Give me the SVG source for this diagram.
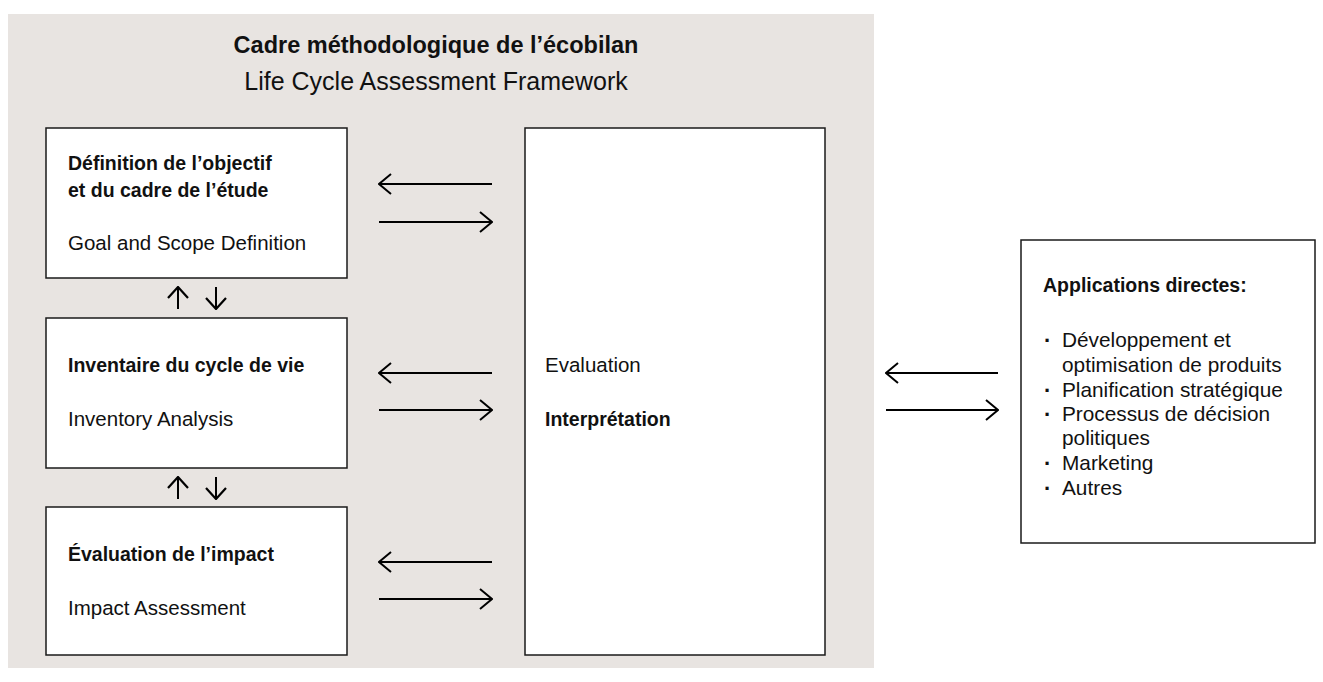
<svg xmlns="http://www.w3.org/2000/svg" width="1323" height="682" viewBox="0 0 1323 682">
<style>
text{font-family:"Liberation Sans",Arial,sans-serif;fill:#111;font-size:20.5px}
.b{font-weight:bold;font-size:19.5px}
.t1{font-weight:bold;font-size:23.5px}
.t2{font-size:25px}
.r{font-size:20.8px}
.d{font-size:22px;font-weight:bold}
.box{fill:#fff;stroke:#1a1a1a;stroke-width:1.5}
.c{stroke:#000;stroke-width:2;fill:none}
</style>
<defs>
<marker id="ah" viewBox="0 0 14 22" refX="13" refY="11" markerWidth="14" markerHeight="22" markerUnits="userSpaceOnUse" orient="auto">
<path d="M1,1 L13,11 L1,21" fill="none" stroke="#000" stroke-width="2"/>
</marker>
<marker id="ahs" viewBox="0 0 13 22" refX="12" refY="11" markerWidth="13" markerHeight="22" markerUnits="userSpaceOnUse" orient="auto">
<path d="M1,1 L12,11 L1,21" fill="none" stroke="#000" stroke-width="2.2"/>
</marker>
</defs>
<rect x="8" y="14" width="866" height="654" fill="#e8e4e1"/>
<g id="title">
<text class="t1" x="436" y="53" text-anchor="middle">Cadre méthodologique de l’écobilan</text>
<text class="t2" x="436" y="90" text-anchor="middle">Life Cycle Assessment Framework</text>
</g>
<g id="goal">
<rect class="box" x="46" y="128" width="301" height="150"/>
<text class="b" x="68" y="170">Définition de l’objectif</text>
<text class="b" x="68" y="197">et du cadre de l’étude</text>
<text x="68" y="250">Goal and Scope Definition</text>
</g>
<g id="inventory">
<rect class="box" x="46" y="318" width="301" height="150"/>
<text class="b" x="68" y="372">Inventaire du cycle de vie</text>
<text x="68" y="426">Inventory Analysis</text>
</g>
<g id="impact">
<rect class="box" x="46" y="507" width="301" height="148"/>
<text class="b" x="68" y="561">Évaluation de l’impact</text>
<text x="68" y="615">Impact Assessment</text>
</g>
<g id="interpretation">
<rect class="box" x="525" y="128" width="300" height="527"/>
<text x="545" y="372">Evaluation</text>
<text class="b" x="545" y="426">Interprétation</text>
</g>
<g id="applications">
<rect class="box" x="1021" y="240" width="294" height="303"/>
<text class="b" x="1043" y="292">Applications directes:</text>
<text class="d" x="1044" y="348">·</text><text class="r" x="1062" y="347">Développement et</text>
<text class="r" x="1062" y="372">optimisation de produits</text>
<text class="d" x="1044" y="398">·</text><text class="r" x="1062" y="397">Planification stratégique</text>
<text class="d" x="1044" y="422">·</text><text class="r" x="1062" y="421">Processus de décision</text>
<text class="r" x="1062" y="445">politiques</text>
<text class="d" x="1044" y="471">·</text><text class="r" x="1062" y="470">Marketing</text>
<text class="d" x="1044" y="496">·</text><text class="r" x="1062" y="495">Autres</text>
</g>
<g id="connectors">
<line class="c" x1="492" y1="184" x2="379" y2="184" marker-end="url(#ah)"/>
<line class="c" x1="379" y1="222" x2="492" y2="222" marker-end="url(#ah)"/>
<line class="c" x1="492" y1="373" x2="379" y2="373" marker-end="url(#ah)"/>
<line class="c" x1="379" y1="410" x2="492" y2="410" marker-end="url(#ah)"/>
<line class="c" x1="492" y1="562" x2="379" y2="562" marker-end="url(#ah)"/>
<line class="c" x1="379" y1="599" x2="492" y2="599" marker-end="url(#ah)"/>
<line class="c" x1="998" y1="373" x2="886" y2="373" marker-end="url(#ah)"/>
<line class="c" x1="886" y1="410" x2="998" y2="410" marker-end="url(#ah)"/>
<line class="c" x1="178" y1="309" x2="178" y2="287" marker-end="url(#ahs)"/>
<line class="c" x1="216" y1="287" x2="216" y2="309" marker-end="url(#ahs)"/>
<line class="c" x1="178" y1="499" x2="178" y2="477" marker-end="url(#ahs)"/>
<line class="c" x1="216" y1="477" x2="216" y2="499" marker-end="url(#ahs)"/>
</g>
</svg>
